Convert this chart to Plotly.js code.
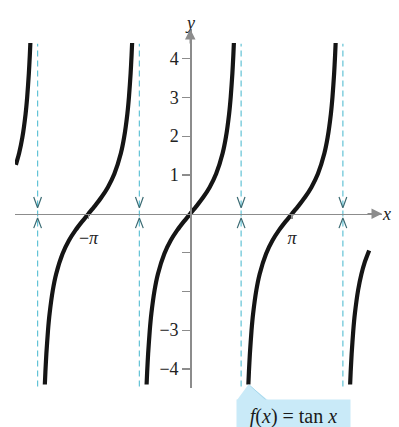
<!DOCTYPE html>
<html><head><meta charset="utf-8">
<script src="https://cdn.plot.ly/plotly-3.0.1.min.js"></script>
<style>html,body{margin:0;padding:0;background:#fff}#chart{width:399px;height:427px}</style>
</head><body><div id="chart"></div>
<script>
// ---- data (f(x) = tan x) ----
const leftX  = [-5.3832, -5.2832, -5.1832, -5.0832, -5.0332, -4.9832, -4.9532, -4.9359];
const leftY  = [1.260, 1.557, 1.965, 2.572, 3.010, 3.602, 4.072, 4.40];
const fullY  = [-4.40,-4.072,-3.602,-3.010,-2.572,-1.965,-1.557,-1.030,-0.684,-0.423,-0.203,0,0.203,0.423,0.684,1.030,1.557,1.965,2.572,3.010,3.602,4.072,4.40];
const negPiX = [-4.4889,-4.4716,-4.4416,-4.3916,-4.3416,-4.2416,-4.1416,-3.9416,-3.7416,-3.5416,-3.3416,-3.1416,-2.9416,-2.7416,-2.5416,-2.3416,-2.1416,-2.0416,-1.9416,-1.8916,-1.8416,-1.8116,-1.7943];
const zeroX  = [-1.3473,-1.33,-1.3,-1.25,-1.2,-1.1,-1.0,-0.8,-0.6,-0.4,-0.2,0,0.2,0.4,0.6,0.8,1.0,1.1,1.2,1.25,1.3,1.33,1.3473];
const posPiX = [1.7943,1.8116,1.8416,1.8916,1.9416,2.0416,2.1416,2.3416,2.5416,2.7416,2.9416,3.1416,3.3416,3.5416,3.7416,3.9416,4.1416,4.2416,4.3416,4.3916,4.4416,4.4716,4.4889];
const rightX = [4.9359, 4.9532, 4.9832, 5.0332, 5.0832, 5.1832, 5.2832, 5.3832, 5.5232];
const rightY = [-4.40, -4.072, -3.602, -3.010, -2.572, -1.965, -1.557, -1.260, -0.950];
const asymptotes = [-4.7124, -1.5708, 1.5708, 4.7124];
const yTickVals = [-4, -3, -2, -1, 1, 2, 3, 4];
const yTickText = ['\u22124', '\u22123', '', '', '1', '2', '3', '4'];
const xTickVals = [-3.1416, 3.1416];
const xTickText = ['\u2212<i>\u03c0</i>', '<i>\u03c0</i>'];
const labelText = '<i>f</i>(<i>x</i>) = tan <i>x</i>';

// ---- layout constants ----
const XR = [-5.41, 5.92], YR = [-4.49, 4.76];
const px0 = (0 - XR[0]) / (XR[1] - XR[0]);
const py0 = (0 - YR[0]) / (YR[1] - YR[0]);
const axisColor = '#8c8c8c';
const serif = 'Liberation Serif, Times New Roman, serif';
const curveLine = {color: '#151515', width: 4.2, shape: 'spline', smoothing: 0.5};

const branches = [[leftX, leftY], [negPiX, fullY], [zeroX, fullY], [posPiX, fullY], [rightX, rightY]];
const traces = branches.map(b => ({
  x: b[0], y: b[1], type: 'scatter', mode: 'lines', line: curveLine, hoverinfo: 'skip', showlegend: false
}));

// chevrons on asymptotes at the x-axis
const chevX = [], chevY = [];
asymptotes.forEach(a => {
  chevX.push(a - 0.12, a, a + 0.12, null, a - 0.12, a, a + 0.12, null);
  chevY.push(0.43, 0.15, 0.43, null, -0.37, -0.11, -0.37, null);
});
traces.push({x: chevX, y: chevY, type: 'scatter', mode: 'lines',
  line: {color: '#3a6a72', width: 1.2}, hoverinfo: 'skip', showlegend: false});

const shapes = asymptotes.map(a => ({
  type: 'line', xref: 'x', yref: 'y', x0: a, x1: a, y0: -4.45, y1: 4.38, layer: 'below',
  line: {color: '#62c3d6', width: 1.2, dash: '6px,4px'}
}));
// pointer wedge of the label
shapes.push({type: 'path', xref: 'paper', yref: 'paper', layer: 'above',
  path: 'M 0.636 0.010 L 0.605 -0.0334 L 0.689 -0.0334 Z',
  fillcolor: '#c9eaf8', line: {width: 0}});
shapes.push({type: 'line', xref: 'paper', yref: 'paper', layer: 'above',
  x0: 0.639, y0: 0.008, x1: 0.684, y1: -0.0334, line: {color: '#a6d8ec', width: 1}});

const annotations = [
  {xref: 'paper', yref: 'paper', x: 1, y: py0, ax: -16, ay: 0, text: '', showarrow: true,
   arrowhead: 2, arrowsize: 1.5, arrowwidth: 1.4, arrowcolor: axisColor, standoff: 0},
  {xref: 'paper', yref: 'paper', x: px0, y: 1, ax: 0, ay: 16, text: '', showarrow: true,
   arrowhead: 2, arrowsize: 1.5, arrowwidth: 1.4, arrowcolor: axisColor, standoff: 0},
  {xref: 'paper', yref: 'paper', x: 1.03, y: py0, text: '<i>x</i>', showarrow: false,
   font: {family: serif, size: 18, color: '#222'}},
  {xref: 'paper', yref: 'paper', x: px0, y: 1.05, text: '<i>y</i>', showarrow: false,
   font: {family: serif, size: 18, color: '#222'}},
  {xref: 'paper', yref: 'paper', x: 0.759, y: -0.078, xanchor: 'center', yanchor: 'middle',
   text: labelText, showarrow: false, bgcolor: '#c9eaf8', width: 107, height: 26, borderpad: 3,
   font: {family: serif, size: 20, color: '#1a1a1a'}}
];

const layout = {
  width: 399, height: 427,
  margin: {l: 15, r: 17, t: 29, b: 39},
  paper_bgcolor: '#fff', plot_bgcolor: '#fff',
  showlegend: false,
  xaxis: {range: XR, anchor: 'free', position: py0, showline: true, linecolor: axisColor, linewidth: 1.3,
    showgrid: false, zeroline: false, tickvals: xTickVals, ticktext: xTickText, ticks: 'outside',
    ticklen: 4, tickcolor: axisColor, tickwidth: 1.2, ticklabelstandoff: 3,
    tickfont: {family: serif, size: 18, color: '#222'}, fixedrange: true},
  yaxis: {range: YR, anchor: 'free', position: px0, showline: true, linecolor: axisColor, linewidth: 1.3,
    showgrid: false, zeroline: false, tickvals: yTickVals, ticktext: yTickText, ticks: 'outside',
    ticklen: 8, tickcolor: axisColor, tickwidth: 1.2,
    tickfont: {family: serif, size: 18, color: '#222'}, fixedrange: true},
  yaxis2: {range: YR, overlaying: 'y', anchor: 'free', position: px0, side: 'left', showline: false,
    showgrid: false, zeroline: false, tickvals: yTickVals, ticks: 'inside', ticklen: 8,
    tickcolor: axisColor, tickwidth: 1.2, showticklabels: false, fixedrange: true},
  shapes: shapes,
  annotations: annotations
};

Plotly.newPlot('chart', traces, layout, {staticPlot: true, displayModeBar: false});
</script>
</body></html>
